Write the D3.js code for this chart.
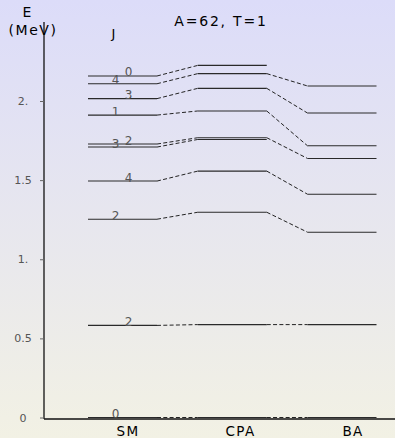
<!DOCTYPE html>
<html>
<head>
<meta charset="utf-8">
<script src="https://cdn.jsdelivr.net/npm/d3@7"></script>
<style>
  body { margin: 0; }
  svg { display: block; font-family: "DejaVu Sans", sans-serif; }
</style>
</head>
<body>
<div id="chart"></div>
<script>
// level data (MeV)
const models = ["SM", "CPA", "BA"];
const jLabels = ["0", "2", "2", "4", "3", "2", "1", "3", "4", "0"];
const smE  = [0, 0.582, 1.253, 1.494, 1.709, 1.728, 1.911, 2.015, 2.109, 2.158];
const cpaE = [0, 0.587, 1.297, 1.557, 1.757, 1.768, 1.937, 2.080, 2.173, 2.225];
const baE  = [0, 0.587, 1.171, 1.411, null, 1.637, 1.717, 1.924, 2.095, null];
const yTicks = [0, 0.5, 1, 1.5, 2];
const yTickLabels = ["0", "0.5", "1.", "1.5", "2."];

const W = 395, H = 438;
const svg = d3.select("#chart").append("svg")
    .attr("width", W)
    .attr("height", H);

// background gradient
const grad = svg.append("defs").append("linearGradient")
    .attr("id", "bg").attr("x1", 0).attr("y1", 0).attr("x2", 0).attr("y2", 1);
grad.append("stop").attr("offset", "0%").attr("stop-color", "#dcdcf9");
grad.append("stop").attr("offset", "100%").attr("stop-color", "#f2f1e4");
svg.append("rect").attr("width", W).attr("height", H).attr("fill", "url(#bg)");

var y = d3.scaleLinear()
    .domain([0, 2])
    .range([417.5, 101]);

// centre of each model's column
var x = d3.scaleLinear()
    .domain([0, 2])
    .range([122.5, 342]);
const halfW = 34.5;

var xLab = d3.scaleLinear()
    .domain([0, 2])
    .range([128, 353]);

const series = [smE, cpaE, baE];

// dashed connectors
for (let m = 0; m < 2; m++) {
  series[m].forEach(function(e, i) {
    const e2 = series[m + 1][i];
    if (e == null || e2 == null) return;
    svg.append("line")
      .attr("x1", x(m) + halfW)
      .attr("y1", y(e))
      .attr("x2", x(m + 1) - halfW)
      .attr("y2", y(e2))
      .attr("stroke", "#222")
      .attr("stroke-width", 1)
      .attr("stroke-dasharray", "4,2.3");
  });
}

// level lines
series.forEach(function(s, m) {
  svg.append("g")
    .selectAll("line")
    .data(s.filter(d => d != null))
    .enter().append("line")
      .attr("x1", x(m) - halfW)
      .attr("x2", x(m) + halfW)
      .attr("y1", d => y(d))
      .attr("y2", d => y(d))
      .attr("stroke", "#2a2a2a")
      .attr("stroke-width", 1.1);
});

// J labels on SM levels, alternating position
svg.append("g")
  .selectAll("text")
  .data(smE)
  .enter().append("text")
    .attr("x", (d, i) => i % 2 == 0 ? 115.5 : 128.5)
    .attr("y", d => y(d) + 0.5)
    .attr("text-anchor", "middle")
    .attr("fill", "#555")
    .style("font-size", "12px")
    .text((d, i) => jLabels[i]);

// axes frame
svg.append("line")
  .attr("x1", 44).attr("x2", 44)
  .attr("y1", y(2.5)).attr("y2", 419)
  .attr("stroke", "#111").attr("stroke-width", 1.3);
svg.append("line")
  .attr("x1", 44).attr("x2", W)
  .attr("y1", 419).attr("y2", 419)
  .attr("stroke", "#111").attr("stroke-width", 1.3);

var yAxis = svg.append("g")
  .attr("transform", "translate(44,0)")
  .call(d3.axisLeft(y).tickValues(yTicks)
        .tickFormat((d, i) => yTickLabels[i])
        .tickSize(4).tickSizeOuter(0));
yAxis.select(".domain").remove();
yAxis.selectAll(".tick line").attr("stroke", "#666");
yAxis.selectAll(".tick text")
  .attr("x", -21)
  .attr("text-anchor", "middle")
  .attr("fill", "#555")
  .style("font-size", "11px")
  .style("font-family", "DejaVu Sans, sans-serif");

// model labels
svg.append("g")
  .selectAll("text")
  .data(models)
  .enter().append("text")
    .attr("x", (d, i) => xLab(i))
    .attr("y", 436)
    .attr("text-anchor", "middle")
    .style("font-size", "13.5px")
    .style("letter-spacing", "1.3px")
    .text(d => d);

// titles
svg.append("text")
  .attr("x", 27).attr("y", 17)
  .attr("text-anchor", "middle")
  .style("font-size", "14px")
  .text("E");
svg.append("text")
  .attr("x", 33).attr("y", 35)
  .attr("text-anchor", "middle")
  .style("font-size", "14px")
  .style("letter-spacing", "1.6px")
  .text("(MeV)");
svg.append("text")
  .attr("x", 113.5).attr("y", 38)
  .attr("text-anchor", "middle")
  .style("font-size", "13px")
  .text("J");
svg.append("text")
  .attr("x", 221).attr("y", 26)
  .attr("text-anchor", "middle")
  .style("font-size", "14px")
  .style("letter-spacing", "1.8px")
  .text("A=62, T=1");
</script>
</body>
</html>
